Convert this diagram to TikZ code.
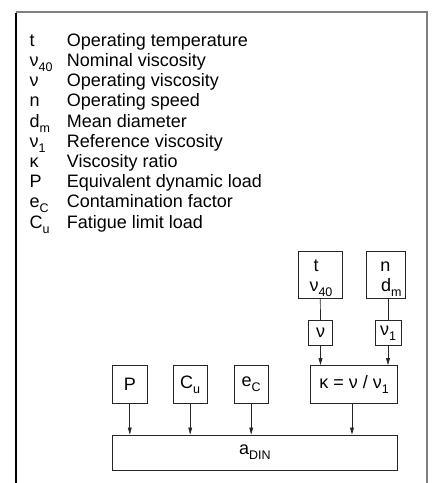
\documentclass[tikz,border=0pt]{standalone}
\usepackage{fontspec}
\setmainfont{Liberation Sans}
\usetikzlibrary{arrows.meta}
\newcommand{\sbs}[1]{\raisebox{-0.28em}{\fontsize{12.5}{12.5}\selectfont #1}}
\begin{document}
\begin{tikzpicture}[x=1pt,y=-1pt,
  font=\fontsize{18}{20.2}\selectfont,
  box/.style={draw=black!85,line width=0.9pt,inner sep=0pt,minimum height=38pt},
  arr/.style={draw=black!85,line width=0.7pt,-{Triangle[length=7pt,width=3.8pt]}},
  conn/.style={draw=black!85,line width=0.7pt},
  frameg/.style={draw=black!50,line width=2pt},
  lsym/.style={anchor=base west,inner sep=0pt},
  ltxt/.style={anchor=base west,inner sep=0pt}]
\useasboundingbox (0,0) rectangle (432,483);
% frame
\coordinate (ftl) at (16,12);
\coordinate (ftr) at (426.7,12);
\coordinate (fbl) at (16,483);
\coordinate (fbr) at (426.7,483);
\draw[frameg] (ftl) -- (ftr) -- (fbr);
\draw[black,line width=1.3pt] ([yshift=-1pt]ftl) -- (fbl);
% legend
\foreach \i/\s/\t in {0/t/Operating temperature,
  1/ν\sbs{40}/Nominal viscosity,
  2/ν/Operating viscosity,
  3/n/Operating speed,
  4/d\sbs{m}/Mean diameter,
  5/ν\sbs{1}/Reference viscosity,
  6/κ/Viscosity ratio,
  7/P/Equivalent dynamic load,
  8/e\sbs{C}/Contamination factor,
  9/C\sbs{u}/Fatigue limit load}{
  \node[lsym] (sym\i) at (29.5,46.3+20.2*\i) {\s};
  \node[ltxt] (txt\i) at (66.7,46.3+20.2*\i) {\t};
}
% top boxes
\node[box,minimum width=44pt,minimum height=46.6pt] (tbox) at (320.3,275) {};
\node[anchor=base,inner sep=0pt] (tlab) at (316,271.5) {t};
\node[anchor=base,inner sep=0pt] (nu40lab) at (321,291.5) {ν\sbs{40}};
\node[box,minimum width=39pt,minimum height=46.6pt] (nbox) at (385.5,275) {};
\node[anchor=base,inner sep=0pt] (nlab) at (385.5,271.5) {n};
\node[anchor=base west,inner sep=0pt] (dmlab) at (381,291.5) {d\sbs{m}};
% middle boxes
\node[box,minimum width=24pt,minimum height=24.3pt] (nu) at (320.5,332.8) {ν};
\node[box,minimum width=26pt,minimum height=24.3pt] (nu1) at (388,332.8) {ν\sbs{1}};
% row boxes
\node[box,minimum width=35pt] (P) at (129.8,384.6) {P};
\node[box,minimum width=34.5pt] (Cu) at (190.2,384.6) {C\sbs{u}};
\node[box,minimum width=34.5pt] (eC) at (251.2,384.6) {e\sbs{C}};
\node[box,minimum width=86.6pt] (kappa) at (354,384.6) {κ = ν / ν\sbs{1}};
\node[box,minimum width=285pt,minimum height=35pt] (adin) at (254.8,452.5) {a\sbs{DIN}};
% connectors
\draw[conn] (tbox.south) -- (nu.north);
\draw[conn] (nbox.south -| nu1.north) -- (nu1.north);
\draw[arr] (nu.south) -- (nu.south |- kappa.north);
\draw[arr] (nu1.south) -- (nu1.south |- kappa.north);
\draw[arr] (P.south) -- (P.south |- adin.north);
\draw[arr] (Cu.south) -- (Cu.south |- adin.north);
\draw[arr] (eC.south) -- (eC.south |- adin.north);
\draw[arr] ([xshift=-2pt]kappa.south) -- ([xshift=-2pt]kappa.south |- adin.north);
\end{tikzpicture}
\end{document}
